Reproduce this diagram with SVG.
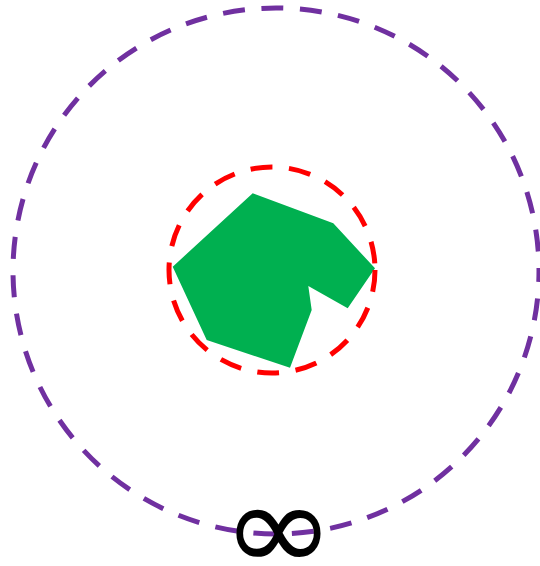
<svg xmlns="http://www.w3.org/2000/svg" width="540" height="566" viewBox="0 0 540 566">
<style>
.ring{fill:none;stroke-width:5;stroke-dasharray:22 16.6}
.outer{stroke:#7030A0}
.inner{stroke:#FF0000}
.shape{fill:#00B050}
.inf{font-family:"DejaVu Sans",sans-serif;fill:#000}
</style>
<rect width="540" height="566" fill="#fff"/>
<g id="outer-circle"><circle class="ring outer" cx="276" cy="271" r="263" stroke-dashoffset="11"/></g>
<g id="polygon"><polygon class="shape" points="252.7,193.3 333.3,223.3 375,268.3 347.7,308.3 308.3,286 311.7,310 290,367.7 206.7,340 172.7,266.7"/></g>
<g id="inner-circle"><circle class="ring inner" cx="272" cy="270" r="103"/></g>
<g id="infinity"><text class="inf" transform="translate(278.5,571) scale(1.08,1)" font-size="126" text-anchor="middle">∞</text></g>
</svg>
